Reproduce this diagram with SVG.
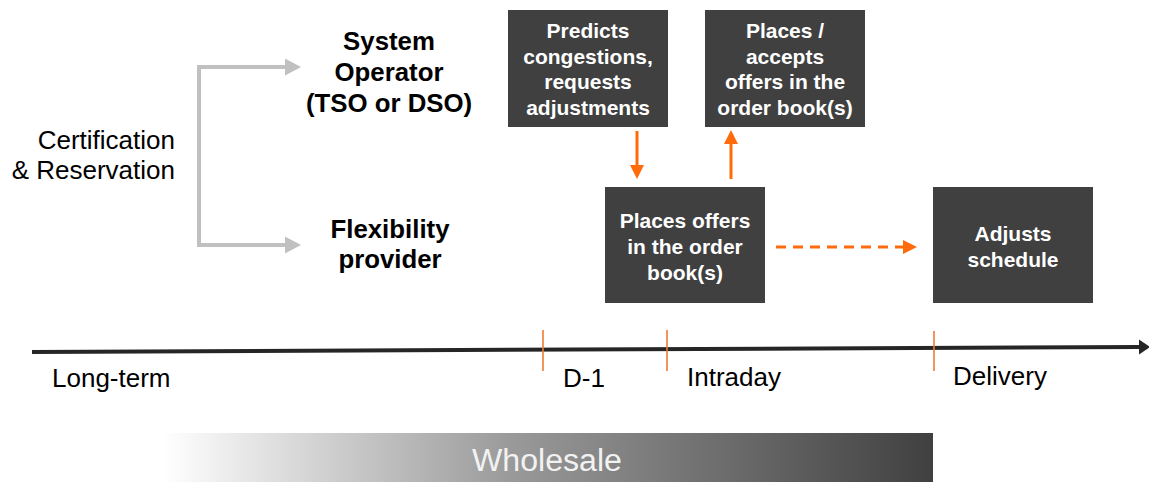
<svg xmlns="http://www.w3.org/2000/svg" width="1149" height="482" viewBox="0 0 1149 482">
<style>
.box{fill:#404040}
.bt{font-family:"Liberation Sans",Arial,sans-serif;font-weight:bold;font-size:21px;fill:#ffffff;text-anchor:middle}
.lbl{font-family:"Liberation Sans",Arial,sans-serif;font-weight:bold;font-size:25.8px;fill:#000;text-anchor:middle}
.reg{font-family:"Liberation Sans",Arial,sans-serif;font-size:26px;fill:#000}
.orange{stroke:#ff6a0a;stroke-width:3;fill:none}
.tick{stroke:#f07a30;stroke-width:1.6}
</style>
<defs>
<marker id="oa" markerUnits="userSpaceOnUse" markerWidth="16" markerHeight="16" refX="1" refY="7" orient="auto">
<path d="M0,0 L14,7 L0,14 z" fill="#ff6a0a"/>
</marker>
<marker id="ga" markerUnits="userSpaceOnUse" markerWidth="18" markerHeight="18" refX="1" refY="8.5" orient="auto-start-reverse">
<path d="M0,0 L16,8.5 L0,17 z" fill="#c0c0c0"/>
</marker>
<marker id="ta" markerUnits="userSpaceOnUse" markerWidth="12" markerHeight="16" refX="1" refY="7.5" orient="auto">
<path d="M0,0 L11,7.5 L0,15 z" fill="#262626"/>
</marker>
<linearGradient id="wg" x1="0" y1="0" x2="1" y2="0">
<stop offset="0" stop-color="#ffffff"/>
<stop offset="0.45" stop-color="#9a9a9a"/>
<stop offset="1" stop-color="#404040"/>
</linearGradient>
</defs>

<g id="certification">
<text class="reg" x="175" y="149" text-anchor="end">Certification</text>
<text class="reg" x="175" y="179" text-anchor="end">&amp; Reservation</text>
</g>

<g id="system-operator">
<text class="lbl" x="389" y="50">System</text>
<text class="lbl" x="389" y="81">Operator</text>
<text class="lbl" x="389" y="112">(TSO or DSO)</text>
</g>

<g id="flexibility-provider">
<text class="lbl" x="390" y="238">Flexibility</text>
<text class="lbl" x="390" y="268">provider</text>
</g>

<g id="box-predicts">
<rect class="box" x="508" y="10" width="160" height="117"/>
<text class="bt" x="588" y="38">Predicts</text>
<text class="bt" x="588" y="63.5">congestions,</text>
<text class="bt" x="588" y="89">requests</text>
<text class="bt" x="588" y="114.5">adjustments</text>
</g>

<g id="box-accepts">
<rect class="box" x="705" y="10" width="160" height="117"/>
<text class="bt" x="785" y="38">Places /</text>
<text class="bt" x="785" y="63.5">accepts</text>
<text class="bt" x="785" y="89">offers in the</text>
<text class="bt" x="785" y="114.5">order book(s)</text>
</g>

<g id="box-places">
<rect class="box" x="605" y="187" width="160" height="116"/>
<text class="bt" x="685" y="228">Places offers</text>
<text class="bt" x="685" y="254">in the order</text>
<text class="bt" x="685" y="279.5">book(s)</text>
</g>

<g id="box-adjusts">
<rect class="box" x="933" y="187" width="160" height="116"/>
<text class="bt" x="1013" y="241">Adjusts</text>
<text class="bt" x="1013" y="267">schedule</text>
</g>

<g id="connectors">
<path d="M286,67 H199 V245 H286" fill="none" stroke="#c0c0c0" stroke-width="4" marker-start="url(#ga)" marker-end="url(#ga)"/>
<line class="orange" x1="637" y1="131" x2="637" y2="166" marker-end="url(#oa)"/>
<line class="orange" x1="731" y1="179" x2="731" y2="143" marker-end="url(#oa)"/>
<line class="orange" x1="776" y1="247" x2="904" y2="247" stroke-dasharray="10 7" marker-end="url(#oa)"/>
</g>

<g id="timeline">
<line x1="32" y1="352" x2="1140" y2="347" stroke="#262626" stroke-width="4" marker-end="url(#ta)"/>
<line class="tick" x1="543" y1="330" x2="543" y2="371"/>
<line class="tick" x1="667" y1="330" x2="667" y2="371"/>
<line class="tick" x1="934" y1="331" x2="934" y2="371"/>
<text class="reg" x="52" y="387">Long-term</text>
<text class="reg" x="563" y="387">D-1</text>
<text class="reg" x="687" y="386">Intraday</text>
<text class="reg" x="953" y="385">Delivery</text>
</g>

<g id="wholesale">
<rect x="163" y="433" width="770" height="49" fill="url(#wg)"/>
<text x="547" y="471" font-family="'Liberation Sans',Arial,sans-serif" font-size="31" fill="#f2f2f2" text-anchor="middle" textLength="150" lengthAdjust="spacingAndGlyphs">Wholesale</text>
</g>
</svg>
